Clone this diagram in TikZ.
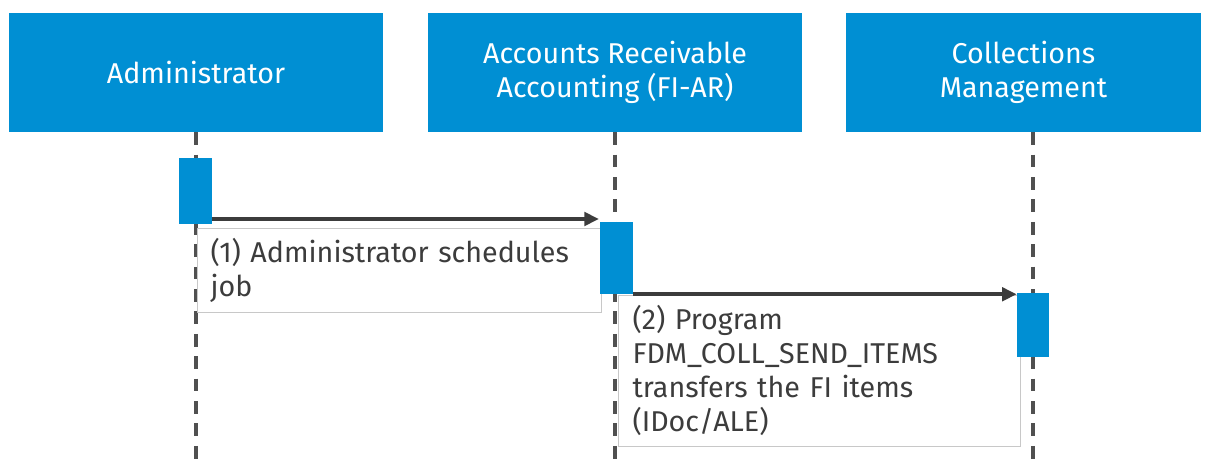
\documentclass[tikz,border=0pt]{standalone}
\usepackage{fontspec}
\setmainfont{Fira Sans}
\usetikzlibrary{arrows.meta}
\definecolor{sapblue}{HTML}{008FD3}
\definecolor{txtgray}{HTML}{3C3C3C}
\definecolor{linegray}{HTML}{3C3C3C}
\definecolor{dashgray}{HTML}{505050}
\definecolor{boxgray}{HTML}{C8C8C8}
\begin{document}
\begin{tikzpicture}[x=0.75pt,y=-0.75pt,
  hdr/.style={fill=sapblue,text=white,minimum height=89.25pt,align=center,inner sep=0pt,
    font=\fontsize{21.5pt}{25.5pt}\selectfont},
  act/.style={fill=sapblue,inner sep=0pt,minimum width=24.75pt},
  life/.style={draw=dashgray,line width=2.4pt,dash pattern=on 9.5pt off 7.3pt},
  msg/.style={draw=linegray,line width=3pt,-{Triangle[length=11pt,width=10pt]}},
  lbl/.style={draw=boxgray,line width=0.8pt,fill=white,anchor=north west,align=left,text=txtgray,
    font=\fontsize{21.5pt}{25.5pt}\selectfont}]
\useasboundingbox[fill=white] (0,0) rectangle (1208,470);
% headers
\node[hdr,minimum width=280.5pt] (h1) at (196,72.5) {Administrator};
\node[hdr,minimum width=280.5pt] (h2) at (615,72.5) {Accounts Receivable\\Accounting (FI-AR)};
\node[hdr,minimum width=266.25pt] (h3) at (1023.5,72.5) {Collections\\Management};
% lifeline ends
\coordinate (e1) at (196,468);
\coordinate (e2) at (615,468);
\coordinate (e3) at (1033,468);
\draw[life] (h1.south -| e1) -- (e1);
\draw[life] (h2.south -| e2) -- (e2);
\draw[life] (h3.south -| e3) -- (e3);
% label boxes
\node[lbl,minimum width=302pt,minimum height=63pt,text width=283.5pt,inner xsep=9.75pt] (l1) at (197,228)
  {(1) Administrator schedules\\job};
\node[lbl,minimum width=299pt,minimum height=113pt,text width=280.5pt,inner xsep=10.5pt] (l2) at (618,295)
  {(2) Program\\FDM\_COLL\_SEND\_ITEMS\\transfers the FI items\\(IDoc/ALE)};
% activations
\node[act,minimum height=49.5pt] (a1) at (195.5,191) {};
\node[act,minimum height=54pt] (a2) at (616.5,258) {};
\node[act,minimum height=48pt,minimum width=24pt] (a3) at (1033,325) {};
% messages
\coordinate (m1) at (599,219);
\draw[msg] (a1.east |- m1) -- (m1);
\draw[msg] (a2.south east) -- (a2.south east -| a3.west);
\end{tikzpicture}
\end{document}
